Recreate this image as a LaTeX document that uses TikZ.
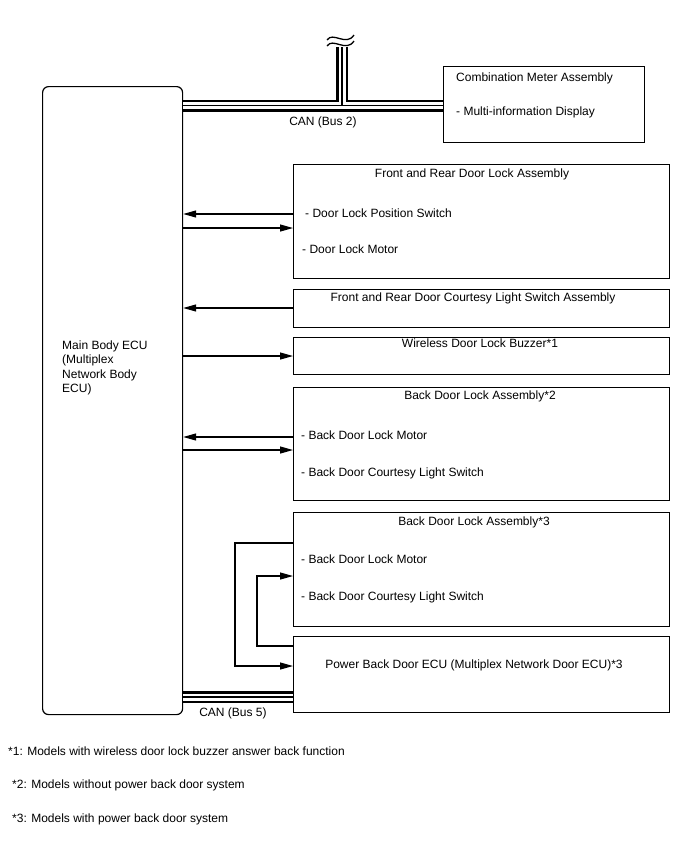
\documentclass[tikz,border=0pt]{standalone}
\usepackage{fontspec}
\setmainfont{Liberation Sans}
\usetikzlibrary{positioning, arrows.meta}

\begin{document}
\begin{tikzpicture}[x=1pt, y=-1pt,
      unit/.style={draw, line width=1.2pt, inner sep=0pt, anchor=north west},
      lbl/.style={inner sep=0pt, font=\fontsize{12}{14.4}\selectfont, text height=8.6pt, text depth=0pt},
      item/.style={lbl, anchor=west},
      arr/.style={-{Triangle[length=13pt, width=7pt]}, line width=1.2pt},
      bus/.style={line width=2.5pt, double, double distance=7pt},
      buscore/.style={line width=1.2pt}]
    \useasboundingbox (0,0) rectangle (688,852);

    % units
    \node[unit, rounded corners=6pt, minimum width=140pt, minimum height=628pt] (ecu) at (42,86) {};
    \node[unit, minimum width=201pt, minimum height=76pt] (meter) at (443,66) {};
    \node[unit, minimum width=376pt, minimum height=114pt] (frlock) at (293,164) {};
    \node[unit, minimum width=376pt, minimum height=38pt] (courtesy) at (293,289) {};
    \node[unit, minimum width=376pt, minimum height=37pt] (buzzer) at (293,337) {};
    \node[unit, minimum width=376pt, minimum height=113pt] (bdlockA) at (293,387) {};
    \node[unit, minimum width=376pt, minimum height=114pt] (bdlockB) at (293,512) {};
    \node[unit, minimum width=376pt, minimum height=76pt] (pbd) at (293,636) {};

    % texts
    \node[lbl, anchor=north west, align=left, text height=, text depth=] (ecutxt) at (62,340.5) {Main Body ECU\\(Multiplex\\Network Body\\ECU)};
    \node[item] (metertitle) at (456,77) {Combination Meter Assembly};
    \node[item] (meteritem) at (456,111) {- Multi-information Display};
    \node[lbl] (frtitle) at (472,173) {Front and Rear Door Lock Assembly};
    \node[item] (frsw) at (305,213) {- Door Lock Position Switch};
    \node[item] (frmotor) at (302,249) {- Door Lock Motor};
    \node[lbl] (courtesytitle) at (473,297) {Front and Rear Door Courtesy Light Switch Assembly};
    \node[lbl] (buzzertitle) at (480,343) {Wireless Door Lock Buzzer*1};
    \node[lbl] (bdAtitle) at (480,395) {Back Door Lock Assembly*2};
    \node[item] (bdAmotor) at (301,435) {- Back Door Lock Motor};
    \node[item] (bdAsw) at (301,472) {- Back Door Courtesy Light Switch};
    \node[lbl] (bdBtitle) at (474,521) {Back Door Lock Assembly*3};
    \node[item] (bdBmotor) at (301,559) {- Back Door Lock Motor};
    \node[item] (bdBsw) at (301,596) {- Back Door Courtesy Light Switch};
    \node[lbl] (pbdtxt) at (474,664) {Power Back Door ECU (Multiplex Network Door ECU)*3};

    % CAN lines
    \coordinate (cantop) at (342,47);
    \draw[bus] (ecu.east |- 0,105.5) -- (meter.west |- 0,105.5) (cantop |- 0,105.5) -- (cantop);
    \draw[buscore] (ecu.east |- 0,105.5) -- (meter.west |- 0,105.5) (cantop |- 0,105.5) -- (cantop);
    \draw[line width=1.3pt] (327,40) .. controls (333,31) and (346,47) .. (354,35);
    \draw[line width=1.3pt] (327,46) .. controls (333,37) and (346,53) .. (354,41);
    \node[lbl] (bus2) at (323,121) {CAN (Bus 2)};
    \draw[bus] (ecu.east |- 0,697) -- (pbd.west |- 0,697);
    \draw[buscore] (ecu.east |- 0,697) -- (pbd.west |- 0,697);
    \node[lbl] (bus5) at (233,712) {CAN (Bus 5)};

    % signals
    \draw[arr] (frlock.west |- 0,214) -- (ecu.east |- 0,214);
    \draw[arr] (ecu.east |- 0,228) -- (frlock.west |- 0,228);
    \draw[arr] (courtesy.west |- 0,308) -- (ecu.east |- 0,308);
    \draw[arr] (ecu.east |- 0,356) -- (buzzer.west |- 0,356);
    \draw[arr] (bdlockA.west |- 0,437) -- (ecu.east |- 0,437);
    \draw[arr] (ecu.east |- 0,450) -- (bdlockA.west |- 0,450);
    \draw[arr] (bdlockB.west |- 0,543) -- ++(-58,0) |- (pbd.west |- 0,666);
    \draw[arr] (pbd.west |- 0,646) -- ++(-36,0) |- (bdlockB.west |- 0,576);

    % notes
    \node[item] (note1) at (8,751) {*1: Models with wireless door lock buzzer answer back function};
    \node[item] (note2) at (12,784) {*2: Models without power back door system};
    \node[item] (note3) at (12,818) {*3: Models with power back door system};
  \end{tikzpicture}
\end{document}
